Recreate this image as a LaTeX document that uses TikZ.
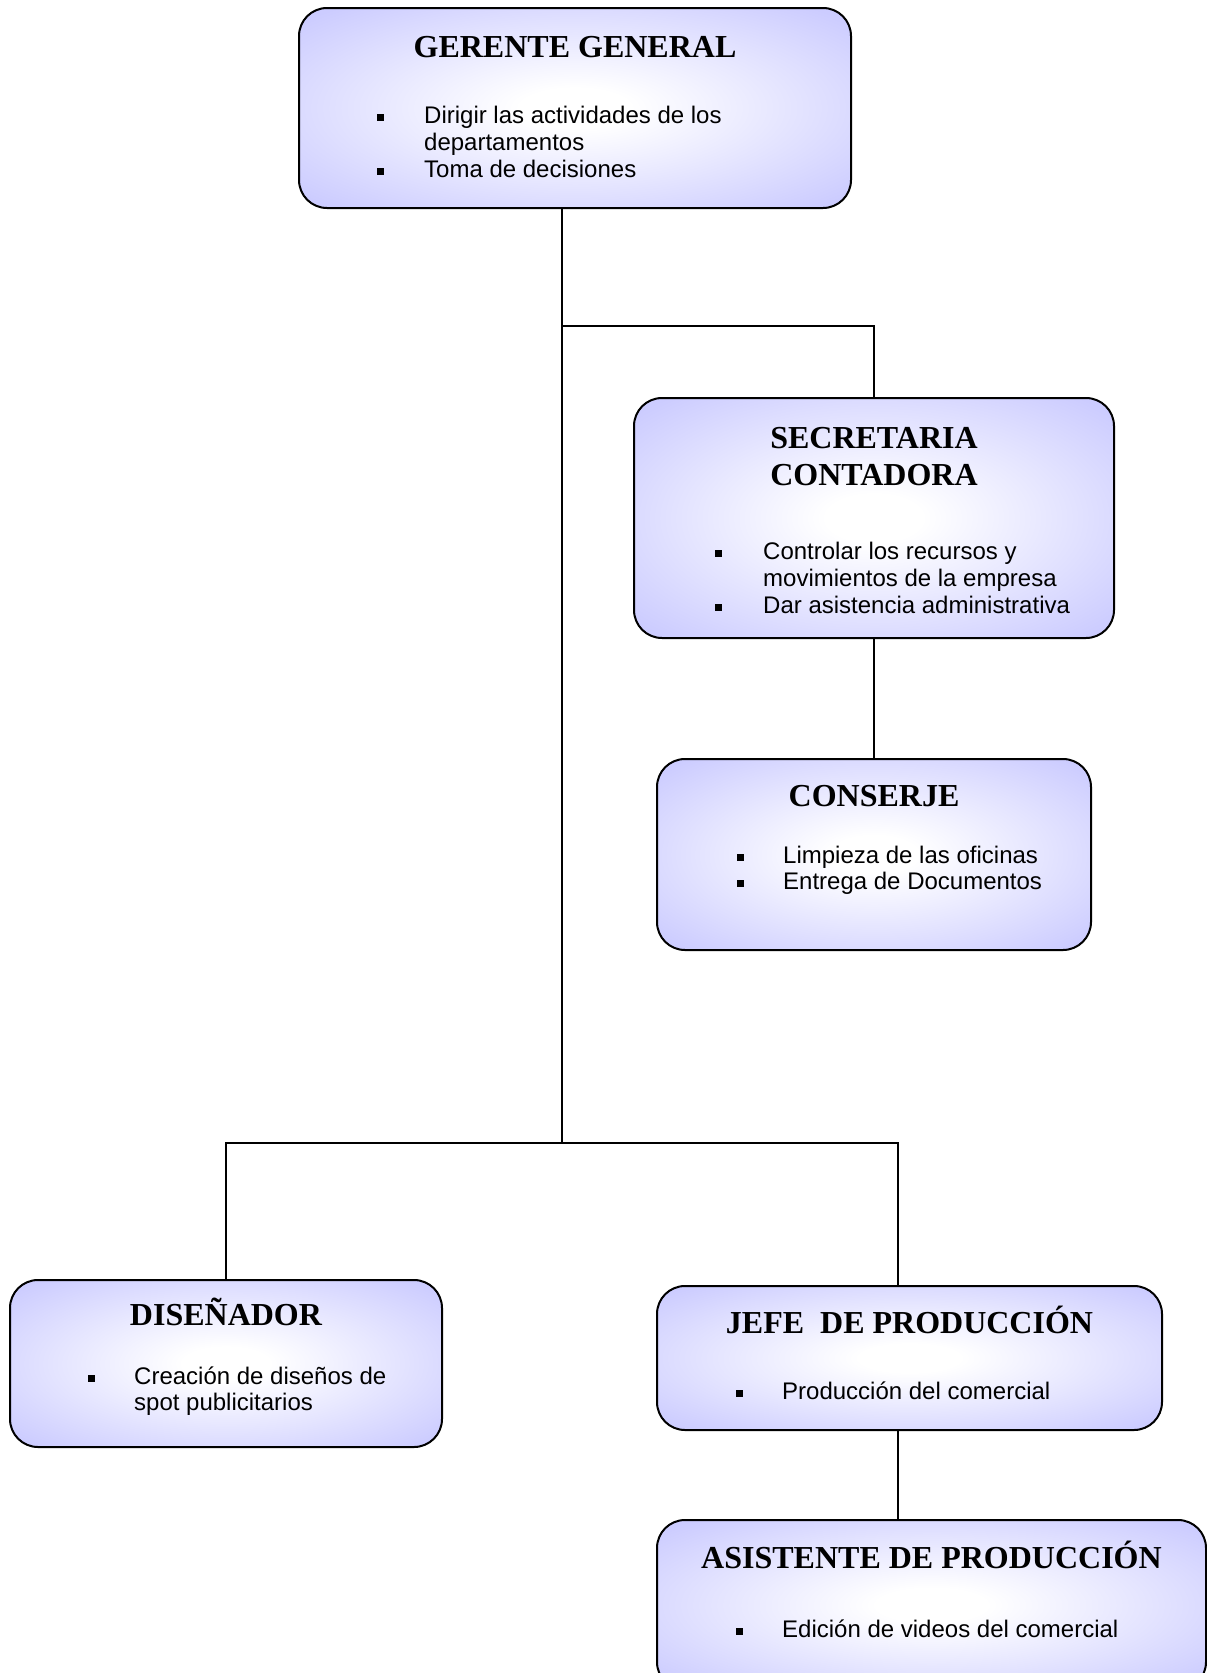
\documentclass[tikz,border=0pt]{standalone}
\usepackage{fontspec}
\setmainfont{Liberation Serif}
\newfontfamily\arialfont{Liberation Sans}
\definecolor{lav}{RGB}{204,204,255}
% soft glow: white centre fading out to lavender towards the edges
\pgfdeclareradialshading{boxglow}{\pgfpoint{0bp}{0bp}}{%
  color(0bp)=(white); color(5bp)=(white); color(33bp)=(lav); color(50bp)=(lav)}
\begin{document}
\begin{tikzpicture}[x=1pt,y=-1pt,
  box/.style={draw=black, line width=2pt, rounded corners=28pt, shading=boxglow,
    rectangle, inner sep=0pt},
  conn/.style={draw=black, line width=2pt},
  title/.style={inner sep=0pt, anchor=base, font=\fontsize{32}{37}\selectfont\bfseries},
  item/.style={inner sep=0pt, anchor=base west, font=\arialfont\fontsize{24}{27}\selectfont},
  dot/.style={fill=black, rectangle, inner sep=0pt, minimum size=7pt}]
\useasboundingbox (0,0) rectangle (1207,1673);
\fill[white] (0,0) rectangle (1207,1673);
\clip (0,0) rectangle (1207,1673);

% connector junctions
\coordinate (secJ) at (562,326);
\coordinate (trunk) at (562,1143);
\coordinate (prodJ) at (897.5,1143);

% boxes
\node[box, minimum width=552pt, minimum height=200pt] (ger) at (575,108) {};
\node[box, minimum width=480pt, minimum height=240pt] (sec) at (874,518) {};
\node[box, minimum width=434pt, minimum height=191pt] (con) at (874,854.5) {};
\node[box, minimum width=432pt, minimum height=167pt] (dis) at (226,1363.5) {};
\node[box, minimum width=505pt, minimum height=144pt] (jefe) at (909.5,1358) {};
\node[box, minimum width=549pt, minimum height=170pt] (asis) at (931.5,1605) {};

% connectors
\draw[conn] (ger.south -| trunk) -- (trunk);
\draw[conn] (secJ) -| (sec.north);
\draw[conn] (sec.south) -- (con.north);
\draw[conn] (dis.north) |- (prodJ) -- (prodJ |- jefe.north);
\draw[conn] (jefe.south -| prodJ) -- (prodJ |- asis.north);

% GERENTE GENERAL
\node[title] (gerT) at (575,57) {GERENTE GENERAL};
\node[dot] (gerB1) at (380.5,117) {};
\node[item] (gerL1) at (424,123) {Dirigir las actividades de los};
\node[item] (gerL2) at (424,150) {departamentos};
\node[dot] (gerB2) at (380.5,171) {};
\node[item] (gerL3) at (424,177) {Toma de decisiones};

% SECRETARIA CONTADORA
\node[title] (secT1) at (874,448) {SECRETARIA};
\node[title] (secT2) at (874,485) {CONTADORA};
\node[dot] (secB1) at (718.5,553) {};
\node[item] (secL1) at (763,559) {Controlar los recursos y};
\node[item] (secL2) at (763,586) {movimientos de la empresa};
\node[dot] (secB2) at (718.5,607) {};
\node[item] (secL3) at (763,613) {Dar asistencia administrativa};

% CONSERJE
\node[title] (conT) at (874,806) {CONSERJE};
\node[dot] (conB1) at (740,857) {};
\node[item] (conL1) at (783,863) {Limpieza de las oficinas};
\node[dot] (conB2) at (740,883) {};
\node[item] (conL2) at (783,889) {Entrega de Documentos};

% DISEÑADOR
\node[title] (disT) at (226,1325) {DISEÑADOR};
\node[dot] (disB1) at (91,1378) {};
\node[item] (disL1) at (134,1384) {Creación de diseños de};
\node[item] (disL2) at (134,1410) {spot publicitarios};

% JEFE DE PRODUCCIÓN
\node[title] (jefeT) at (909.5,1333) {JEFE\ \ DE PRODUCCIÓN};
\node[dot] (jefeB1) at (739,1393) {};
\node[item] (jefeL1) at (782,1399) {Producción del comercial};

% ASISTENTE DE PRODUCCIÓN
\node[title] (asisT) at (931.5,1568) {ASISTENTE DE PRODUCCIÓN};
\node[dot] (asisB1) at (739,1631) {};
\node[item] (asisL1) at (782,1637) {Edición de videos del comercial};
\end{tikzpicture}
\end{document}
